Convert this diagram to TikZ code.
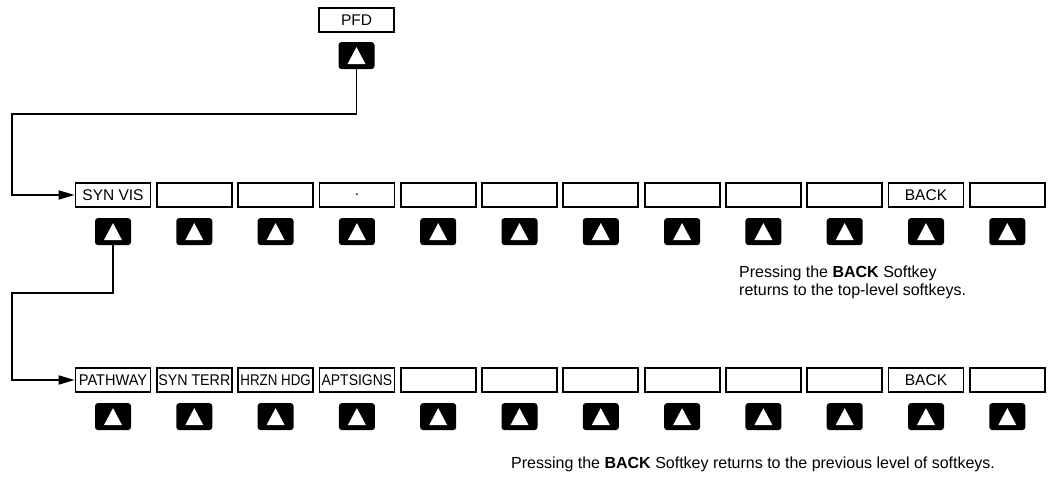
\documentclass[tikz,border=0pt]{standalone}
\usepackage{fontspec}
\setmainfont{Liberation Sans}
\usepackage{graphicx}
\usetikzlibrary{arrows.meta,positioning,calc}

\newcommand{\squeeze}[2]{\scalebox{#1}[1]{#2}}

\begin{document}
\begin{tikzpicture}[x=1pt,y=-1pt,
  sk/.style={draw, line width=1.8pt, minimum width=75pt, minimum height=24pt, inner sep=0pt, font=\fontsize{15.5}{17}\selectfont},
  btn/.style={fill=black, rounded corners=3pt, minimum width=36pt, minimum height=27pt, inner sep=0pt,
    path picture={\fill[white, sharp corners] ($(path picture bounding box.center)+(-9pt,-8.5pt)$) -- ++(18pt,0pt) -- ++(-9pt,17pt) -- cycle;}},
  link/.style={line width=1.8pt},
  note/.style={align=left, inner sep=0pt, anchor=north west, font=\fontsize{16}{18}\selectfont}]
  \useasboundingbox (0,0) rectangle (1050,482);
  % top level
  \node[sk] (pfd) at (356.5,20) {PFD};
  \node[btn, below=9pt of pfd] (pfdb) {};
  % first row of softkeys
  \foreach \lab [count=\i from 0] in {SYN VIS,{},{},.,{},{},{},{},{},{},BACK,{}}
    \node[sk] (a\i) at (113+81.3*\i,195) {\lab};
  \foreach \i in {0,...,11}
    \node[btn, below=10pt of a\i] (ab\i) {};
  % second row of softkeys
  \foreach \lab [count=\i from 0] in {{\squeeze{.94}{PATHWAY}},{\squeeze{.92}{SYN TERR}},{\squeeze{.86}{HRZN HDG}},{\squeeze{.9}{APTSIGNS}},{},{},{},{},{},{},BACK,{}}
    \node[sk] (b\i) at (113+81.3*\i,380) {\lab};
  \foreach \i in {0,...,11}
    \node[btn, below=10pt of b\i] (bb\i) {};
  % connectors
  \coordinate (k1) at (12,114);
  \coordinate (k2) at (12,293);
  \draw[link, -{Triangle[length=16pt,width=9pt]}] (pfdb.south) |- (k1) |- (a0.west);
  \draw[link, -{Triangle[length=16pt,width=9pt]}] (ab0.south) |- (k2) |- (b0.west);
  % notes
  \node[note] (n1) at (739,266) {Pressing the \textbf{BACK} Softkey\\returns to the top-level softkeys.};
  \node[note] (n2) at (511,457) {Pressing the \textbf{BACK} Softkey returns to the previous level of softkeys.};
\end{tikzpicture}
\end{document}
